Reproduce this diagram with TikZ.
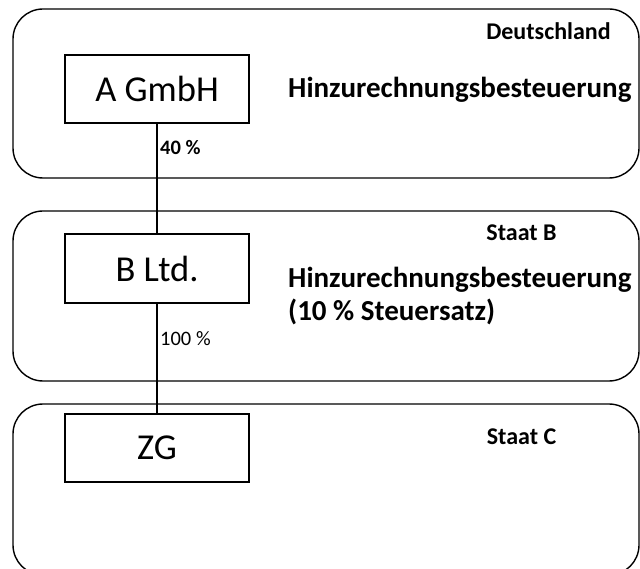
\documentclass[tikz,border=0pt]{standalone}
\usepackage{fontspec}
\setmainfont{Carlito}
\begin{document}
\begin{tikzpicture}[x=1pt,y=-1pt,
  region/.style={draw=black,line width=1.4pt,rounded corners=30pt,minimum width=626pt,inner sep=0pt},
  entity/.style={draw=black,line width=1.2pt,minimum width=184pt,minimum height=68pt,inner sep=0pt,font=\fontsize{36.5}{40}\selectfont},
  country/.style={inner sep=0pt,font=\fontsize{24}{28}\selectfont\bfseries},
  taxnote/.style={inner sep=0pt,anchor=west,align=left,font=\fontsize{29}{33}\selectfont\bfseries},
  share/.style={inner sep=0pt,anchor=west,font=\fontsize{20.5}{24}\selectfont},
  link/.style={draw=black,line width=1.2pt}]
\useasboundingbox (0,0) rectangle (640,569);
\fill[white] (0,0) rectangle (640,569);
\clip (0,0) rectangle (640,569);
% regions
\node[region,minimum height=169pt] (de) at (326,93.5) {};
\node[region,minimum height=170pt] (sb) at (326,296) {};
\node[region,minimum height=171pt] (sc) at (326,489.5) {};
% entities
\node[entity] (a) at (157,89) {A GmbH};
\node[entity,minimum height=69pt] (b) at (157,268.5) {B Ltd.};
\node[entity] (zg) at (157,448) {ZG};
% country labels
\node[country] (lde) at (548.5,31) {Deutschland};
\node[country] (lsb) at (521.5,233) {Staat B};
\node[country] (lsc) at (521.5,437) {Staat C};
% tax notes
\node[taxnote] (t1) at (288,90) {Hinzurechnungsbesteuerung};
\node[taxnote] (t2) at (288,296.5) {Hinzurechnungsbesteuerung\\(10 \% Steuersatz)};
% connectors
\draw[link] (a.south) -- (b.north);
\draw[link] (b.south) -- (zg.north);
% shares
\node[share,font=\fontsize{20.5}{24}\selectfont\bfseries] (s1) at (160,148) {40 \%};
\node[share] (s2) at (160,339) {100 \%};
\end{tikzpicture}
\end{document}
